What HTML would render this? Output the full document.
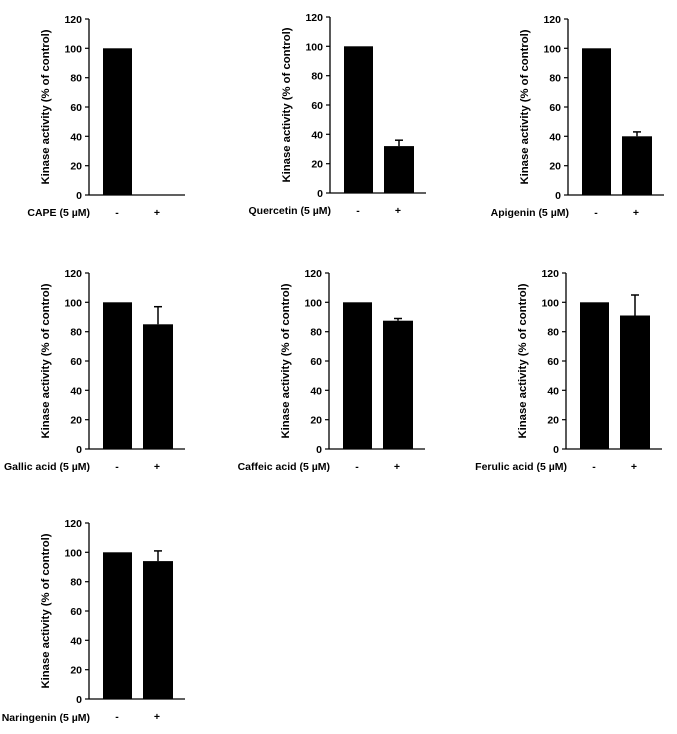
<!DOCTYPE html>
<html><head><meta charset="utf-8"><style>
body{margin:0;background:#fff}
svg{display:block}
text{font-family:"Liberation Sans",Arial,sans-serif;font-weight:bold;font-size:10.5px;fill:#000}
</style></head><body>
<svg width="677" height="734" viewBox="0 0 677 734" xmlns="http://www.w3.org/2000/svg">
<defs>
<g id="ax">
<line x1="0" y1="0" x2="0" y2="176" stroke="#000" stroke-width="1.3"/>
<line x1="0" y1="176" x2="96" y2="176" stroke="#000" stroke-width="1.3"/>
<g stroke="#000" stroke-width="1.2">
<line x1="-4" y1="0" x2="0" y2="0"/><line x1="-4" y1="29.3" x2="0" y2="29.3"/><line x1="-4" y1="58.7" x2="0" y2="58.7"/><line x1="-4" y1="88" x2="0" y2="88"/><line x1="-4" y1="117.3" x2="0" y2="117.3"/><line x1="-4" y1="146.7" x2="0" y2="146.7"/><line x1="-4" y1="176" x2="0" y2="176"/>
</g>
<g text-anchor="end">
<text x="-7" y="4">120</text><text x="-7" y="33.3">100</text><text x="-7" y="62.7">80</text><text x="-7" y="92">60</text><text x="-7" y="121.3">40</text><text x="-7" y="150.7">20</text><text x="-7" y="180">0</text>
</g>
<text transform="translate(-40,88) rotate(-90)" text-anchor="middle" style="font-size:11.3px">Kinase activity (% of control)</text>
<rect x="14" y="29.3" width="29" height="146.7" fill="#000"/>
<text x="28" y="197" text-anchor="middle">-</text>
<text x="68" y="197" text-anchor="middle">+</text>
</g>
</defs>

<g transform="translate(89,19)"><use href="#ax"/>
<text x="1" y="197" text-anchor="end">CAPE (5 µM)</text></g>

<g transform="translate(330,17)"><use href="#ax"/>
<rect x="54" y="129.1" width="30" height="46.9" fill="#000"/>
<line x1="69" y1="129.1" x2="69" y2="123.2" stroke="#000" stroke-width="1.5"/><line x1="65" y1="123.2" x2="73" y2="123.2" stroke="#000" stroke-width="1.5"/>
<text x="1" y="197" text-anchor="end">Quercetin (5 µM)</text></g>

<g transform="translate(568,19)"><use href="#ax"/>
<rect x="54" y="117.3" width="30" height="58.7" fill="#000"/>
<line x1="69" y1="117.3" x2="69" y2="112.9" stroke="#000" stroke-width="1.5"/><line x1="65" y1="112.9" x2="73" y2="112.9" stroke="#000" stroke-width="1.5"/>
<text x="1" y="197" text-anchor="end">Apigenin (5 µM)</text></g>

<g transform="translate(89,273)"><use href="#ax"/>
<rect x="54" y="51.3" width="30" height="124.7" fill="#000"/>
<line x1="69" y1="51.3" x2="69" y2="33.7" stroke="#000" stroke-width="1.5"/><line x1="65" y1="33.7" x2="73" y2="33.7" stroke="#000" stroke-width="1.5"/>
<text x="1" y="197" text-anchor="end">Gallic acid (5 µM)</text></g>

<g transform="translate(329,273)"><use href="#ax"/>
<rect x="54" y="47.7" width="30" height="128.3" fill="#000"/>
<line x1="69" y1="47.7" x2="69" y2="45.5" stroke="#000" stroke-width="1.5"/><line x1="65" y1="45.5" x2="73" y2="45.5" stroke="#000" stroke-width="1.5"/>
<text x="1" y="197" text-anchor="end">Caffeic acid (5 µM)</text></g>

<g transform="translate(566,273)"><use href="#ax"/>
<rect x="54" y="42.5" width="30" height="133.5" fill="#000"/>
<line x1="69" y1="42.5" x2="69" y2="22" stroke="#000" stroke-width="1.5"/><line x1="65" y1="22" x2="73" y2="22" stroke="#000" stroke-width="1.5"/>
<text x="1" y="197" text-anchor="end">Ferulic acid (5 µM)</text></g>

<g transform="translate(89,523)"><use href="#ax"/>
<rect x="54" y="38.1" width="30" height="137.9" fill="#000"/>
<line x1="69" y1="38.1" x2="69" y2="27.9" stroke="#000" stroke-width="1.5"/><line x1="65" y1="27.9" x2="73" y2="27.9" stroke="#000" stroke-width="1.5"/>
<text x="1" y="198" text-anchor="end">Naringenin (5 µM)</text></g>
</svg>
</body></html>
